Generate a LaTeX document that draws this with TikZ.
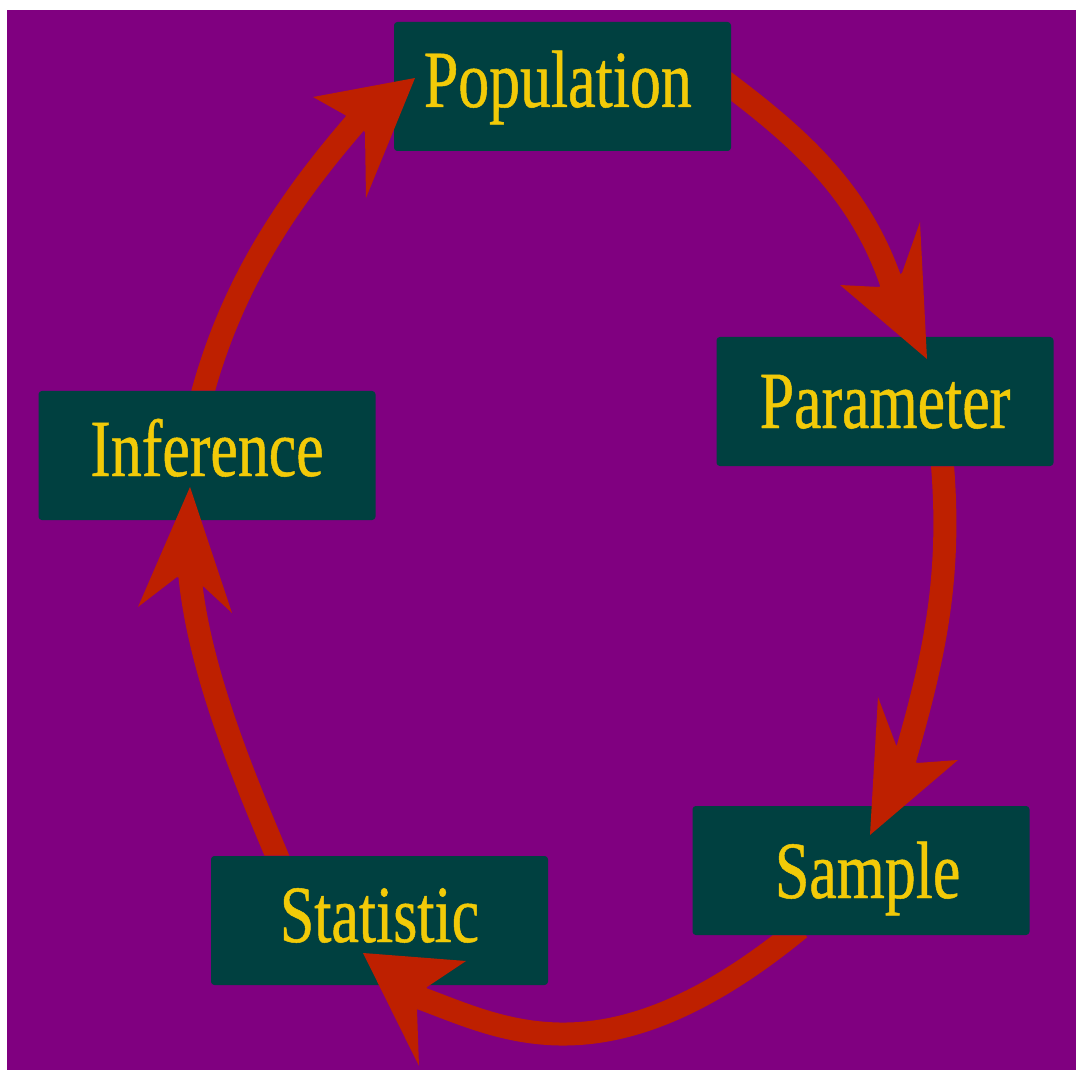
\documentclass[tikz,border=0pt]{standalone}
\usepackage{fontspec}
\setmainfont{Liberation Serif}[FakeStretch=0.76, FakeBold=0.6]
\usetikzlibrary{calc}
\definecolor{bgpurple}{RGB}{128,0,128}
\definecolor{boxteal}{RGB}{0,64,64}
\definecolor{textgold}{RGB}{242,202,8}
\definecolor{arrred}{RGB}{190,32,0}
\tikzset{
  stagebox/.style={fill=boxteal, rounded corners=2.5pt, minimum width=252.75pt,
    minimum height=96.75pt, inner sep=0pt, text=textgold,
    font=\fontsize{61pt}{61pt}\selectfont, text height=40.5pt, text depth=6pt},
  shaft/.style={draw=arrred, line width=17.25pt},
  arrowhead/.style={fill=arrred},
}
\begin{document}
\begin{tikzpicture}[x=0.75pt, y=-0.75pt]
\useasboundingbox (0,0) rectangle (1076,1070);
\fill[bgpurple] (7,10) rectangle (1076,1070);
\node[stagebox, text depth=9.75pt] (pop) at (562.5,86.5) {Population\kern7pt};
\node[stagebox, text depth=0.75pt] (par) at (885,401.5) {Parameter};
\node[stagebox, text height=42pt, text depth=0.75pt] (sam) at (861,870.5) {\kern10pt Sample};
\node[stagebox, text depth=8.25pt] (sta) at (379.5,920.5) {Statistic};
\node[stagebox, text depth=9.75pt] (inf) at (207,455.5) {Inference};
% shaft ends (inside the arrowheads)
\coordinate (e1) at (893,288);
\coordinate (e2) at (904,762);
\coordinate (e3) at (414.5,996);
\coordinate (e4) at (189.7,574);
\coordinate (e5) at (360,117.5);
% Population -> Parameter
\begin{scope}[even odd rule]
\clip (0,0) rectangle (1076,1070) (pop.north west) rectangle (pop.south east);
\draw[shaft] ($(pop.east)+(-10,-7.5)$) .. controls (803,140) and (862,194) .. (e1);
\end{scope}
\fill[arrowhead] (927,359) -- (840,285) -- (879,287) -- (902,273) -- (920,222) -- cycle;
% Parameter -> Sample
\begin{scope}[even odd rule]
\clip (0,0) rectangle (1076,1070) (par.north west) rectangle (par.south east);
\draw[shaft] ($(par.south)+(56.5,-12)$) .. controls (953,576) and (934,658) .. (e2);
\end{scope}
\fill[arrowhead] (870,835) -- (878,697) -- (896,745) -- (917,763) -- (958,760) -- cycle;
% Sample -> Statistic
\begin{scope}[even odd rule]
\clip (0,0) rectangle (1076,1070) (sam.north west) rectangle (sam.south east);
\draw[shaft] ($(sam.south)+(-61,-7)$) .. controls (603,1090) and (499,1026) .. (e3);
\end{scope}
\fill[arrowhead] (363,953) -- (466,961) -- (427,987) -- (417,1010) -- (419,1066) -- cycle;
% Statistic -> Inference
\begin{scope}[even odd rule]
\clip (0,0) rectangle (1076,1070) (sta.north west) rectangle (sta.south east);
\draw[shaft] ($(sta.north)+(-97.5,12)$) .. controls (245,780) and (199,672) .. (e4);
\end{scope}
\fill[arrowhead] (190,487) -- (138,607) -- (177,577) -- (204,587) -- (232,613) -- cycle;
% Inference -> Population
\begin{scope}[even odd rule]
\clip (0,0) rectangle (1076,1070) (inf.north west) rectangle (inf.south east);
\draw[shaft] ($(inf.north)+(-7,12)$) .. controls (230.5,284) and (289,199) .. (e5);
\end{scope}
\fill[arrowhead] (415,78) -- (313,97) -- (345,115) -- (365,132) -- (366,198) -- cycle;
\end{tikzpicture}
\end{document}
